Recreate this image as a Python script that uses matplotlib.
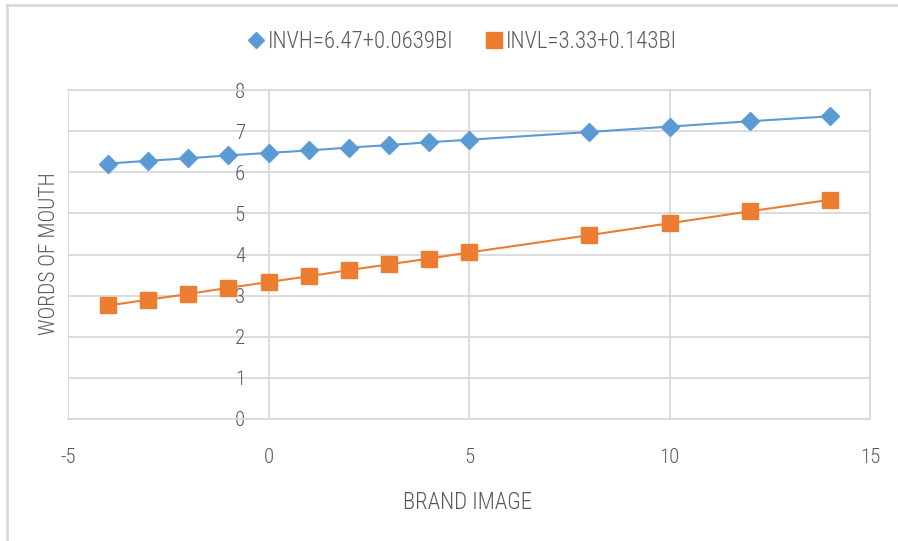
import matplotlib.pyplot as plt
from matplotlib.lines import Line2D

# data
brand_image = [-4, -3, -2, -1, 0, 1, 2, 3, 4, 5, 8, 10, 12, 14]
invh = [6.21, 6.28, 6.34, 6.41, 6.47, 6.53, 6.60, 6.66, 6.73, 6.79, 6.98, 7.11, 7.24, 7.36]
invl = [2.76, 2.90, 3.04, 3.19, 3.33, 3.47, 3.62, 3.76, 3.90, 4.05, 4.47, 4.76, 5.05, 5.33]
labels = ['INVH=6.47+0.0639BI', 'INVL=3.33+0.143BI']
x_ticks = [-5, 0, 5, 10, 15]
y_ticks = [0, 1, 2, 3, 4, 5, 6, 7, 8]

plt.rcParams['font.family'] = ['Roboto Condensed', 'DejaVu Sans']
plt.rcParams['font.weight'] = 'light'
plt.rcParams['axes.unicode_minus'] = False
txt = '#595959'
grid = '#d9d9d9'
blue = '#5B9BD5'
orange = '#ED7D31'

fig = plt.figure(figsize=(8.98, 5.41), dpi=100)
ax = fig.add_axes([68/898, 1-419/541, (870-68)/898, (419-90)/541])

ax.plot(brand_image, invh, color=blue, lw=1.5, marker='D', ms=9, label=labels[0], zorder=3)
ax.plot(brand_image, invl, color=orange, lw=1.5, marker='s', ms=11, label=labels[1], zorder=3)

ax.set_xlim(-5, 15)
ax.set_ylim(0, 8)
ax.set_xticks(x_ticks)
ax.set_yticks(y_ticks)
ax.grid(True, color=grid, lw=1.3)
ax.set_axisbelow(True)
for s in ax.spines.values():
    s.set_color(grid)
    s.set_linewidth(1.3)
ax.spines['left'].set_position(('data', 0))
ax.spines['left'].set_visible(False)
ax.tick_params(axis='both', length=0, labelsize=15, labelcolor=txt)
ax.tick_params(axis='y', pad=17)
ax.tick_params(axis='x', pad=21)

fig.text(50/898, 1-254/541, 'WORDS OF MOUTH', rotation=90, ha='center', va='center',
         fontsize=15.5, color=txt)
fig.text(468/898, 1-502/541, 'BRAND IMAGE', ha='center', va='center', fontsize=16.5, color=txt)

handles = [Line2D([], [], color=blue, marker='D', ls='none', ms=8),
           Line2D([], [], color=orange, marker='s', ls='none', ms=11)]
fig.legend(handles, labels, loc='center', bbox_to_anchor=(462/898, 1-42/541), ncol=2,
           frameon=False, fontsize=16.5, labelcolor=txt, handletextpad=0.1,
           columnspacing=1.4, handlelength=0.8)

# outer chart border
fig.add_artist(Line2D([7/898, 7/898], [0, 1-5/541], color=grid, lw=2))
fig.add_artist(Line2D([7/898, 1], [1-5/541, 1-5/541], color=grid, lw=2))

fig.savefig('out.png', dpi=100)
